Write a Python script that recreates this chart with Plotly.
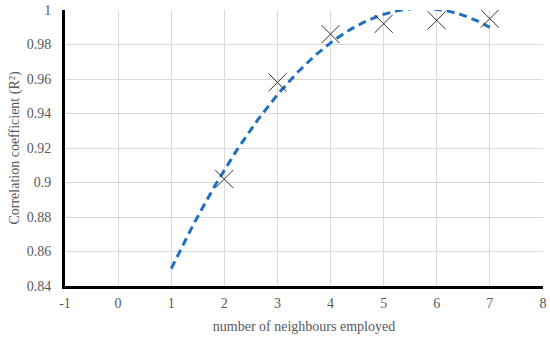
import numpy as np
import plotly.graph_objects as go

# neighbours used vs. correlation coefficient
neighbours = [2, 3, 4, 5, 6, 7]
r_squared = [0.902, 0.958, 0.986, 0.992, 0.994, 0.995]

x_ticks = [-1, 0, 1, 2, 3, 4, 5, 6, 7, 8]
x_labels = ["-1", "0", "1", "2", "3", "4", "5", "6", "7", "8"]
y_ticks = [0.84, 0.86, 0.88, 0.9, 0.92, 0.94, 0.96, 0.98, 1]
y_labels = ["0.84", "0.86", "0.88", "0.9", "0.92", "0.94", "0.96", "0.98", "1"]

# 2nd order polynomial trendline, forecast back one period
coef = np.polyfit(neighbours, r_squared, 2)
trend_x = np.linspace(1, 7, 121)
trend_y = np.polyval(coef, trend_x)

font_family = "Liberation Serif"
grey = "#595959"

fig = go.Figure()
fig.add_trace(go.Scatter(
    x=trend_x, y=trend_y, mode="lines",
    line=dict(color="#1f6fbf", width=3, dash="8px,5px"),
    hoverinfo="skip",
))
fig.add_trace(go.Scatter(
    x=neighbours, y=r_squared, mode="markers",
    marker=dict(symbol="x-thin", size=18, line=dict(color="#333333", width=1)),
))

fig.update_layout(
    width=550, height=340,
    paper_bgcolor="white", plot_bgcolor="white",
    showlegend=False,
    margin=dict(l=65, r=7, t=10, b=54, autoexpand=False),
    font=dict(family=font_family, color=grey, size=14),
)
fig.update_xaxes(
    range=[-1, 8.001], tickvals=x_ticks, ticktext=x_labels,
    showgrid=True, gridcolor="#d9d9d9", gridwidth=1,
    zeroline=False, showline=True, linecolor="black", linewidth=3,
    ticks="outside", ticklen=2, tickcolor="rgba(0,0,0,0)",
    title=dict(text="number of neighbours employed", font=dict(size=14, color=grey), standoff=12),
)
fig.update_yaxes(
    range=[0.84, 1], tickvals=y_ticks, ticktext=y_labels,
    showgrid=True, gridcolor="#d9d9d9", gridwidth=1,
    zeroline=False, showline=True, linecolor="black", linewidth=3,
    ticks="outside", ticklen=8, tickcolor="rgba(0,0,0,0)",
    title=dict(text="Correlation coefficient (R²)", font=dict(size=14, color=grey), standoff=4),
)

# drop the default page margin so the figure sits at the window origin
fig.write_html("out.html", config={"displayModeBar": False},
               post_script="document.body.style.margin='0';")
